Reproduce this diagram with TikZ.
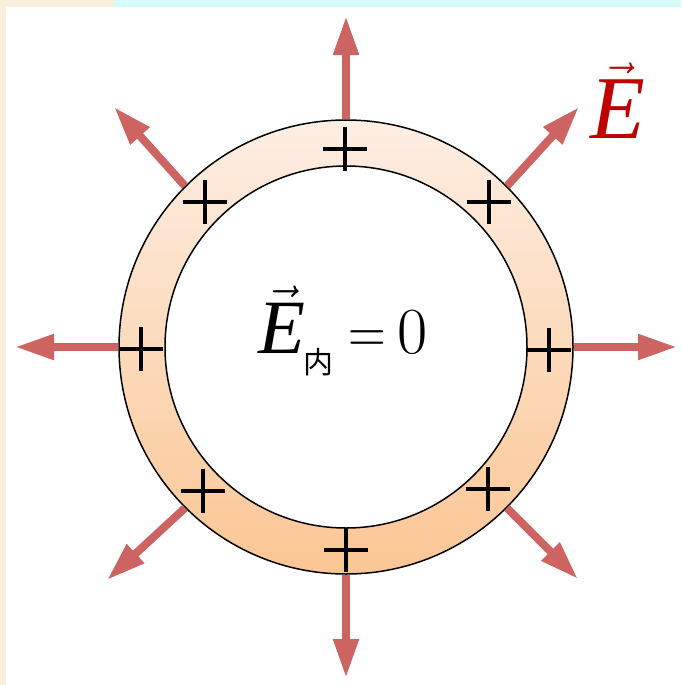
\documentclass[tikz,border=0pt]{standalone}
\usepackage{amsmath}
\usepackage{fontspec}
\setmainfont{Liberation Serif}
\newfontfamily\cjk{Noto Sans CJK SC}
\usetikzlibrary{arrows.meta}

\definecolor{fieldred}{RGB}{205,100,98}
\definecolor{labelred}{RGB}{192,0,0}
\definecolor{ringtop}{RGB}{253,238,228}
\definecolor{ringbot}{RGB}{251,198,148}
\definecolor{beigeband}{RGB}{249,239,220}
\definecolor{cyanband}{RGB}{212,252,253}

\tikzset{
  field/.style={draw=fieldred, line width=4pt, -{Triangle[length=19.5pt,width=12pt]}},
  charge/.style={rectangle, inner sep=0pt, minimum size=22pt},
}

\begin{document}
\begin{tikzpicture}[x=0.5pt, y=-0.5pt]
    \useasboundingbox (0,0) rectangle (681,685);
    \fill[white] (0,0) rectangle (681,685);

    % Franges de la vora
    \fill[beigeband] (0,0) rectangle (6,685);
    \fill[beigeband] (0,0) rectangle (114,7);
    \fill[cyanband] (114,0) rectangle (681,7);

    % Closca conductora
    \node[circle, draw, line width=0.75pt, minimum size=227pt,
          top color=ringtop, bottom color=ringbot] (ring) at (346,347) {};
    \node[circle, draw, line width=0.75pt, minimum size=181pt, fill=white] (hole) at (346,347) {};

    % Linies de camp
    \foreach \a/\x/\y in {90/346/16, 45/579/107, 0/677/347, -45/578/579,
                          -90/346/678, -135/107/580, 180/15/347, 135/114/107} {
        \coordinate (tip\a) at (\x,\y);
        \draw[field] (ring.\a) -- (tip\a);
    }

    % Carregues
    \foreach \n/\x/\y in {n/345/149, ne/489/202, e/549/350, se/488/489,
                          s/346/550, sw/203/491, w/141/349, nw/205/202} {
        \node[charge] (q\n) at (\x,\y) {};
        \draw[line width=2.4pt] (q\n.north) -- (q\n.south) (q\n.west) -- (q\n.east);
    }

    % Llegendes
    \node[anchor=base west, inner sep=0pt] (inside) at (258,353)
        {\fontsize{32}{36}\selectfont\scalebox{1.2}{$\vec{\textit{E}}$}\hspace{-1pt}\raisebox{-10pt}{{\fontsize{15}{15}\selectfont\cjk 内}}%
         \hspace{7.5pt}\scalebox{1.05}[1.29]{$=$}\hspace{6pt}\scalebox{1.32}{$0$}};
    \node[anchor=base west, inner sep=0pt, text=labelred] (elabel) at (590,138)
        {\fontsize{39}{44}\selectfont\scalebox{1.15}{$\vec{\textit{E}}$}};
\end{tikzpicture}
\end{document}
